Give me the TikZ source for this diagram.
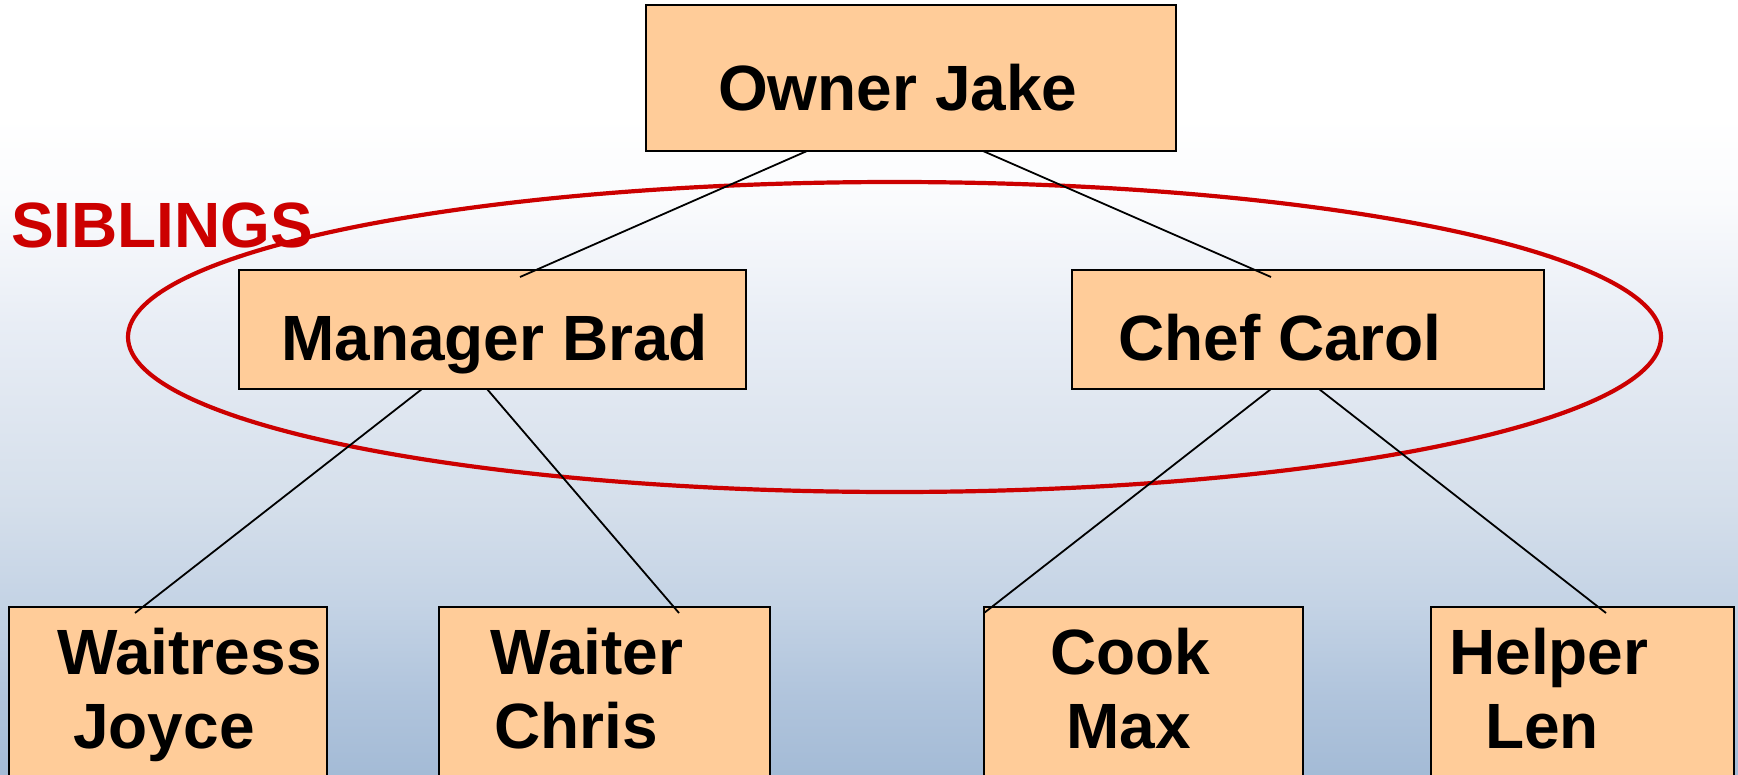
\documentclass[tikz,border=0pt]{standalone}
\usepackage{fontspec}
\setmainfont{Liberation Sans}
\usetikzlibrary{shapes.geometric}

\definecolor{boxfill}{HTML}{FFCC99}
\definecolor{sibred}{HTML}{CC0000}
\definecolor{bgA}{HTML}{A4BBD6}
\definecolor{bgB}{HTML}{B0C4DC}
\definecolor{bgC}{HTML}{C4D3E5}
\definecolor{bgD}{HTML}{D5DFEB}
\definecolor{bgE}{HTML}{E8EDF5}
\definecolor{bgF}{HTML}{FAFBFD}

% soft white-to-blue backdrop, darkest at the bottom
% (\shade stretches the 25bp..75bp band of a shading over the path)
\pgfdeclareverticalshading{backdrop}{100bp}{%
  color(0bp)=(bgA); color(25bp)=(bgA); color(30bp)=(bgB); color(36bp)=(bgC);
  color(42.5bp)=(bgD); color(54bp)=(bgE); color(62bp)=(bgF);
  color(67.5bp)=(white); color(100bp)=(white)}

\tikzset{
  rolebox/.style={draw=black, line width=2.5pt, fill=boxfill, rectangle,
    inner sep=0pt, outer sep=0pt},
  rolename/.style={font=\bfseries\fontsize{64}{64}\selectfont, inner sep=0pt,
    anchor=base west, text=black},
  link/.style={draw=black, line width=1.8pt},
  ring/.style={draw=sibred, line width=4.2pt, ellipse, inner sep=0pt},
}

\begin{document}
\begin{tikzpicture}[x=1pt, y=-1pt]
  \path[use as bounding box] (0,0) rectangle (1738,774);
  \clip (0,0) rectangle (1738,774);
  \shade[shading=backdrop] (0,0) rectangle (1738,774);

  % group outline around the two middle managers
  \node[ring, minimum width=1533pt, minimum height=310pt] (group) at (894.5,337) {};

  % boxes
  \node[rolebox, minimum width=530pt, minimum height=146pt] (owner)    at (911,78) {};
  \node[rolebox, minimum width=507pt, minimum height=119pt] (manager)  at (492.5,329.5) {};
  \node[rolebox, minimum width=472pt, minimum height=119pt] (chef)     at (1308,329.5) {};
  \node[rolebox, minimum width=318pt, minimum height=193pt] (waitress) at (168,703.5) {};
  \node[rolebox, minimum width=331pt, minimum height=193pt] (waiter)   at (604.5,703.5) {};
  \node[rolebox, minimum width=319pt, minimum height=193pt] (cook)     at (1143.5,703.5) {};
  \node[rolebox, minimum width=303pt, minimum height=193pt] (helper)   at (1582.5,703.5) {};

  % reporting lines
  \path[link] ([xshift=161pt]owner.south west) -- ([xshift=281pt, yshift=-7pt]manager.north west);
  \path[link] ([xshift=337pt]owner.south west) -- ([xshift=199pt, yshift=-7pt]chef.north west);
  \path[link] ([xshift=183pt]manager.south west) -- ([xshift=126pt, yshift=-6pt]waitress.north west);
  \path[link] ([xshift=248pt]manager.south west) -- ([xshift=240pt, yshift=-6pt]waiter.north west);
  \path[link] ([xshift=199pt]chef.south west) -- ([yshift=-6pt]cook.north west);
  \path[link] ([xshift=247pt]chef.south west) -- ([xshift=175pt, yshift=-6pt]helper.north west);

  % labels
  \node[rolename] (tOwner)   at (718,110) {Owner Jake};
  \node[rolename] (tManager) at (281,360) {Manager Brad};
  \node[rolename] (tChef)    at (1118,360) {Chef Carol};
  \node[rolename] (tWaitA)   at (57,674)  {Waitress};
  \node[rolename] (tWaitB)   at (73,748)  {Joyce};
  \node[rolename] (tWaiterA) at (490,674) {Waiter};
  \node[rolename] (tWaiterB) at (494,748) {Chris};
  \node[rolename] (tCookA)   at (1050,674) {Cook};
  \node[rolename] (tCookB)   at (1066,748) {Max};
  \node[rolename] (tHelpA)   at (1449,674) {Helper};
  \node[rolename] (tHelpB)   at (1485,748) {Len};
  \node[rolename, text=sibred] (tSib) at (11,247) {SIBLINGS};
\end{tikzpicture}
\end{document}
